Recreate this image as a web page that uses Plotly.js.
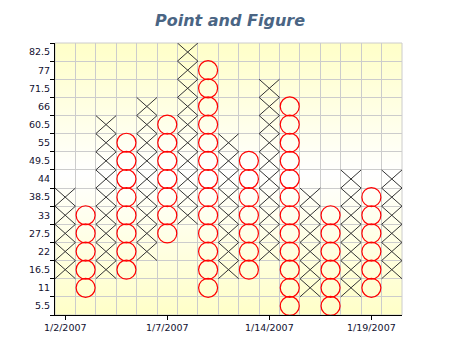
<!DOCTYPE html>
<html>
<head>
<meta charset="utf-8">
<script src="https://cdn.plot.ly/plotly-3.0.1.min.js"></script>
<style>html,body{margin:0;padding:0;background:#fff;}#chart{width:460px;height:345px;}</style>
</head>
<body>
<div id="chart"></div>
<script>
// Point & Figure columns (box size 5.5)
var boxSize = 5.5;
var colType = ['X','O','X','O','X','O','X','O','X','O','X','O','X','O','X','O','X'];
var colLow  = [16.5, 11, 16.5, 16.5, 22, 27.5, 33, 11, 16.5, 16.5, 22, 5.5, 11, 5.5, 11, 11, 16.5];
var colHigh = [38.5, 33, 60.5, 55, 66, 60.5, 82.5, 77, 55, 49.5, 71.5, 66, 38.5, 33, 44, 38.5, 44];
var yTickLabels = [5.5, 11, 16.5, 22, 27.5, 33, 38.5, 44, 49.5, 55, 60.5, 66, 71.5, 77, 82.5];
var xTickCols = [1, 6, 11, 16];
var xTickLabels = ['1/2/2007', '1/7/2007', '1/14/2007', '1/19/2007'];

var xsX = [], ysX = [], xsO = [], ysO = [];
var h = boxSize / 2;
for (var i = 0; i < colType.length; i++) {
  var c = i + 1;
  var n = Math.round((colHigh[i] - colLow[i]) / boxSize);
  for (var k = 0; k <= n; k++) {
    var v = +(colLow[i] + k * boxSize).toFixed(2);
    if (colType[i] === 'X') {
      xsX.push(c - 0.5, c + 0.5, null, c - 0.5, c + 0.5, null);
      ysX.push(v - h, v + h, null, v + h, v - h, null);
    } else {
      xsO.push(c); ysO.push(v);
    }
  }
}

var edgesY = [];
for (var j = 0; j <= yTickLabels.length; j++) edgesY.push(2.75 + j * boxSize);
var edgesX = [];
for (var m = 0; m <= colType.length; m++) edgesX.push(0.5 + m);

var traces = [
  {x: xsX, y: ysX, mode: 'lines', type: 'scatter', line: {color: '#333333', width: 1}, hoverinfo: 'skip', connectgaps: false},
  {x: xsO, y: ysO, mode: 'markers', type: 'scatter',
   marker: {symbol: 'circle-open', size: 19, color: '#FF0000', line: {color: '#FF0000', width: 1.2}}}
];

var grad = '<svg xmlns="http://www.w3.org/2000/svg" width="100" height="100" preserveAspectRatio="none">' +
  '<defs><linearGradient id="g" x1="0" y1="0" x2="0" y2="1">' +
  '<stop offset="0" stop-color="#FFFFC8"/><stop offset="0.48" stop-color="#FFFFFF"/><stop offset="1" stop-color="#FFFFC8"/>' +
  '</linearGradient></defs><rect width="100" height="100" fill="url(#g)"/></svg>';

var layout = {
  width: 460, height: 345,
  margin: {l: 55, r: 58, t: 43, b: 30},
  paper_bgcolor: '#FFFFFF',
  plot_bgcolor: 'rgba(0,0,0,0)',
  showlegend: false,
  title: {text: '<b><i>Point and Figure</i></b>', x: 0.5, xanchor: 'center', y: 0.94, yanchor: 'middle',
          font: {family: 'DejaVu Sans', size: 16, color: '#4A6584'}},
  font: {family: 'DejaVu Sans', size: 9.5, color: '#101030'},
  images: [{source: 'data:image/svg+xml;charset=utf-8,' + encodeURIComponent(grad),
            xref: 'paper', yref: 'paper', x: 0, y: 1, sizex: 1, sizey: 1,
            sizing: 'stretch', layer: 'below', xanchor: 'left', yanchor: 'top'}],
  xaxis: {
    range: [0.5, 17.5], tickmode: 'array', tickvals: xTickCols, ticktext: xTickLabels,
    ticks: 'outside', ticklen: 4, tickcolor: '#000', showgrid: false, zeroline: false,
    showline: true, linecolor: '#000', linewidth: 1, fixedrange: true,
    minor: {tickmode: 'array', tickvals: edgesX, ticks: '', showgrid: true, gridcolor: '#CCCCCC', gridwidth: 1}
  },
  yaxis: {
    range: [2.75, 85.25], tickmode: 'array', tickvals: yTickLabels, ticktext: yTickLabels.map(String),
    ticks: '', showgrid: false, zeroline: false, ticklabelstandoff: 2,
    showline: true, linecolor: '#000', linewidth: 1, fixedrange: true,
    minor: {tickmode: 'array', tickvals: edgesY, ticks: 'outside', ticklen: 4, tickcolor: '#000',
            showgrid: true, gridcolor: '#CCCCCC', gridwidth: 1}
  },
  shapes: [{type: 'rect', xref: 'paper', yref: 'paper', x0: 0, x1: 1, y0: 0, y1: 1,
            line: {color: '#CCCCCC', width: 1}, layer: 'below'}]
};

Plotly.newPlot('chart', traces, layout, {staticPlot: true, displayModeBar: false});
</script>
</body>
</html>
